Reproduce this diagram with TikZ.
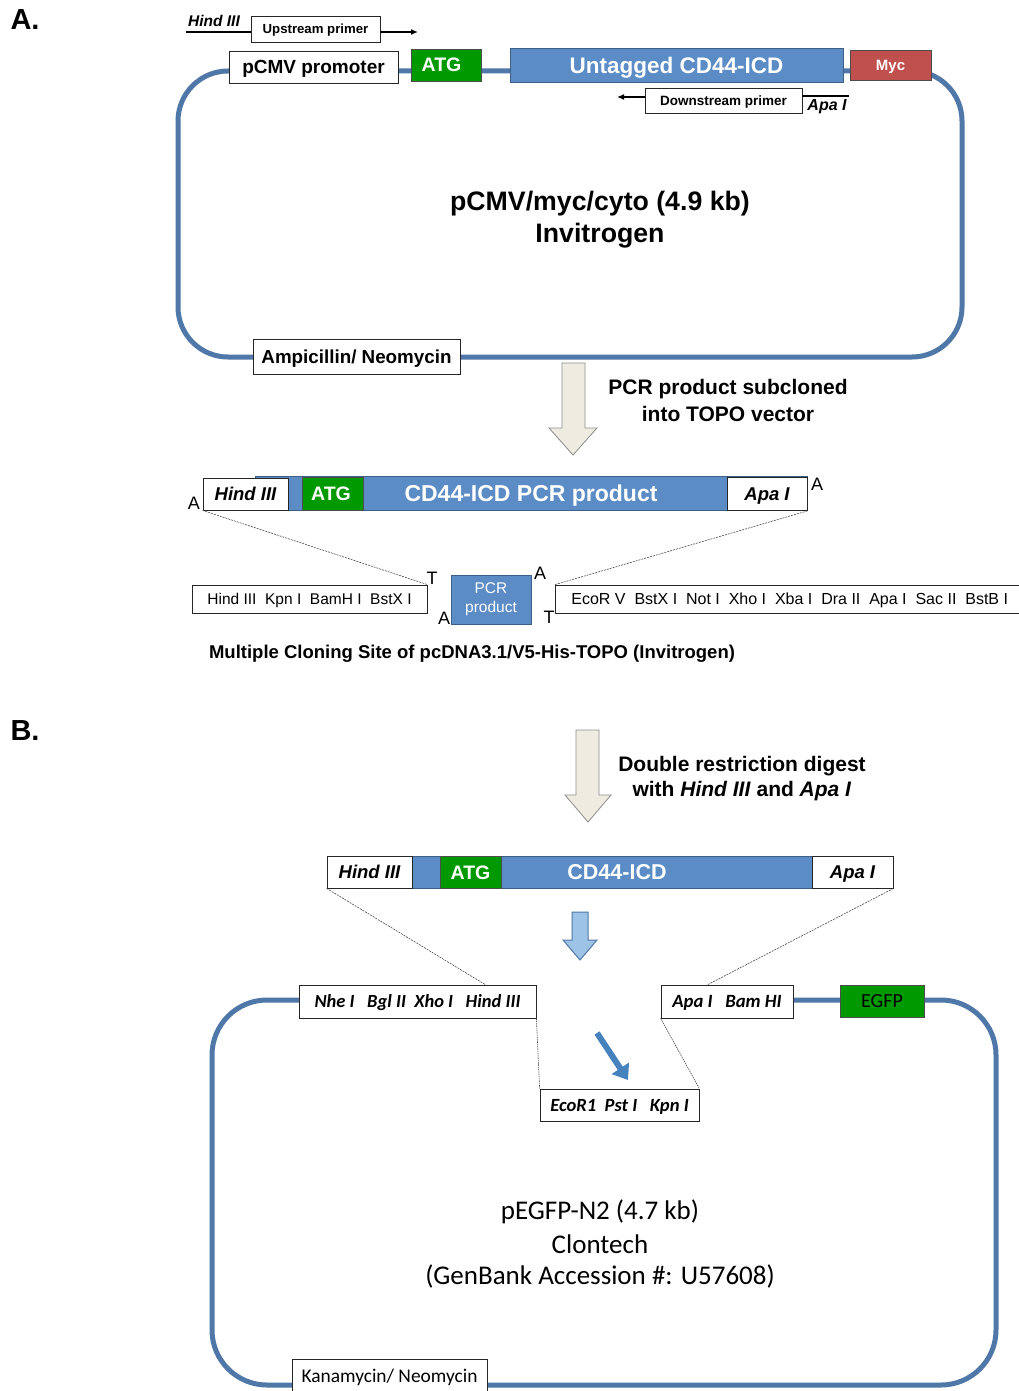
\documentclass[tikz,border=0pt]{standalone}
\usepackage{fontspec}
\setmainfont{Liberation Sans}
\newfontfamily\calib{Carlito}
\usetikzlibrary{arrows.meta}
\definecolor{plas}{RGB}{79,120,168}
\definecolor{barblue}{RGB}{92,140,197}
\definecolor{atggreen}{RGB}{0,153,0}
\definecolor{mycred}{RGB}{192,80,77}
\definecolor{greyfill}{RGB}{238,236,225}
\definecolor{greyline}{RGB}{140,140,140}
\definecolor{lightblue}{RGB}{157,195,230}
\definecolor{arrowblue}{RGB}{70,130,190}
\newcommand{\fs}[1]{\fontsize{#1pt}{#1pt}\selectfont}
\begin{document}
\begin{tikzpicture}[x=1pt,y=-1pt,
  sz/.style 2 args={minimum width=#1pt, minimum height=#2pt},
  ct/.style={text height=#1pt, text depth=0pt},
  box/.style={draw=black!85, line width=0.8pt, fill=white, inner sep=0pt},
  colbox/.style={draw=black!70, line width=0.6pt, fill=#1, inner sep=0pt, text=white},
  bar/.style={draw=plas!80!black, line width=0.6pt, fill=barblue, inner sep=0pt, text=white},
  plasmid/.style={draw=plas, line width=5pt, rounded corners=#1},
  blockarrow/.style={draw=greyline, line width=0.8pt, fill=greyfill},
  thindash/.style={draw=black!70, line width=0.6pt, dashed, dash pattern=on 2pt off 1pt},
  lbl/.style={inner sep=0pt}
]
\useasboundingbox (0,0) rectangle (1018,1391);
\fill[white] (0,0) rectangle (1018,1391);

% ---------------- Part A ----------------
\node[lbl, font=\bfseries\fs{29}] (labA) at (25,20) {A.};

\draw[plasmid=50] (178,71) rectangle (962,357);

\coordinate (hl) at (186,32);
\coordinate (ur) at (418,32);
\node[box, sz={129}{26}, ct=9.5, font=\bfseries\fs{13.2}] (up) at (315.5,29) {Upstream primer};
\draw[line width=1.8pt] (hl) -- (up.west |- hl);
\draw[line width=1.8pt, -{Latex[length=7pt,width=6pt]}] (up.east |- ur) -- (ur);
\node[lbl, font=\bfseries\itshape\fs{15.5}] (hindtop) at (214,21) {Hind III};

\node[box, sz={169}{32}, ct=13.6, font=\bfseries\fs{19}] (pcmv) at (313.5,67) {pCMV promoter};
\node[colbox=atggreen, sz={70}{32}, ct=14, font=\bfseries\fs{19.5}] (atgA) at (446,65) {\hspace{-9pt}ATG};
\node[bar, sz={333}{34}, ct=16.1, font=\bfseries\fs{22.5}] (untag) at (676.5,65) {Untagged CD44-ICD};
\node[colbox=mycred, sz={81}{30}, ct=10.7, font=\bfseries\fs{15}] (myc) at (890.5,65) {Myc};

\coordinate (dl) at (617,97);
\coordinate (dr) at (849,96);
\node[box, sz={157}{25}, ct=9.7, font=\bfseries\fs{13.5}] (down) at (723.5,100.5) {Downstream primer};
\draw[line width=1.8pt, -{Latex[length=7pt,width=6pt]}] (down.west |- dl) -- (dl);
\draw[line width=1.8pt] (down.east |- dr) -- (dr);
\node[lbl, font=\bfseries\itshape\fs{16}] (apatop) at (827,107) {Apa I};

\node[lbl, font=\bfseries\fs{26.7}] (titleA1) at (600,204) {pCMV/myc/cyto (4.9 kb)};
\node[lbl, font=\bfseries\fs{26.7}] (titleA2) at (600,236) {Invitrogen};

\node[box, sz={207}{35}, ct=13.5, font=\bfseries\fs{18.8}] (amp) at (356.5,356.5) {Ampicillin/ Neomycin};

% grey block arrow 1
\draw[blockarrow] (562,363) -- (585,363) -- (585,428) -- (597,428) -- (573,455) -- (549,428) -- (562,428) -- cycle;
\node[lbl, font=\bfseries\fs{21}] (sub1) at (728,389) {PCR product subcloned};
\node[lbl, font=\bfseries\fs{21}] (sub2) at (728,414) {into TOPO vector};

% PCR product bar
\node[bar, sz={552}{34}, ct=16.5, font=\bfseries\fs{23}] (pcrbar) at (531,493) {CD44-ICD PCR product};
\node[box, sz={85}{32}, ct=13.2, font=\bfseries\itshape\fs{18.5}] (hindA) at (245.5,494) {Hind III};
\node[colbox=atggreen, sz={61}{33}, ct=14, font=\bfseries\fs{19.5}] (atgB) at (332.5,493.5) {\hspace{-3pt}ATG};
\node[box, sz={80}{33}, ct=13.2, font=\bfseries\itshape\fs{18.5}] (apaA) at (767,494) {Apa I};
\node[lbl, font=\fs{18}] (aL) at (194,503) {A};
\node[lbl, font=\fs{18}] (aR) at (817,484) {A};

% MCS row
\node[box, sz={235}{28}, ct=11.1, font=\fs{15.5}] (mcsL) at (309.5,599) {Hind III\ \ Kpn I\ \ BamH I\ \ BstX I};
\node[colbox=barblue, sz={80}{49}, align=center, draw=plas!80!black, font=\fontsize{15.5pt}{19pt}\selectfont] (pcrp) at (491,599.5) {PCR\\product};
\node[box, sz={470}{28}, ct=11.5, font=\fs{16}, anchor=west] (mcsR) at (555,599) {\makebox[470pt][l]{\hspace{16pt}EcoR V\ \ BstX I\ \ Not I\ \ Xho I\ \ Xba I\ \ Dra II\ \ Apa I\ \ Sac II\ \ BstB I}};
\node[lbl, font=\fs{18}] (t1) at (432,578) {T};
\node[lbl, font=\fs{18}] (a1) at (444,618) {A};
\node[lbl, font=\fs{18}] (a2) at (540,573) {A};
\node[lbl, font=\fs{18}] (t2) at (549,617) {T};
\draw[thindash] (hindA.south west) -- (mcsL.north east);
\draw[thindash] (apaA.south east) -- (mcsR.north west);

\node[lbl, font=\bfseries\fs{18.5}] (caption) at (472,654) {Multiple Cloning Site of pcDNA3.1/V5-His-TOPO (Invitrogen)};

% ---------------- Part B ----------------
\node[lbl, font=\bfseries\fs{29}] (labB) at (25,731) {B.};

\draw[blockarrow] (576,730) -- (599,730) -- (599,795) -- (611,795) -- (588,822) -- (565,795) -- (576,795) -- cycle;
\node[lbl, font=\bfseries\fs{21}] (dig1) at (742,766) {Double restriction digest};
\node[lbl, font=\bfseries\fs{21}] (dig2) at (742,791) {with \textit{Hind III} and \textit{Apa I}};

\node[bar, sz={566}{32}] (bar2) at (610,872) {};
\node[lbl, text=white, ct=15.4, font=\bfseries\fs{21.5}] (cdl) at (617,872) {CD44-ICD};
\node[box, sz={85}{32}, ct=13.2, font=\bfseries\itshape\fs{18.5}] (hindB) at (369.5,872) {Hind III};
\node[colbox=atggreen, sz={61}{32}, ct=14, font=\bfseries\fs{19.5}] (atgC) at (470.5,872) {ATG};
\node[box, sz={81}{32}, ct=13.2, font=\bfseries\itshape\fs{18.5}] (apaB) at (852.5,872) {Apa I};

% small light-blue arrow
\draw[draw=plas, line width=1pt, fill=lightblue] (572,912) -- (588,912) -- (588,940) -- (597,940) -- (580,960) -- (563,940) -- (572,940) -- cycle;

% plasmid B
\draw[plasmid=55] (300,1000) -- (212,1000) -- (212,1385) -- (996,1385) -- (996,1000) -- (792,1000);

\coordinate (nheT) at (486,985);
\coordinate (apaT) at (707,985);
\node[box, sz={237}{33}, ct=11.9, font=\calib\bfseries\itshape\fs{18.5}] (nhe) at (417.5,1001.5) {Nhe I\ \ \ Bgl II\ \ Xho I\ \ \ Hind III};
\node[box, sz={159}{32}, ct=12, font=\calib\bfseries\itshape\fs{18.6}] (eco) at (619.5,1105) {EcoR1\ \ Pst I\ \ \ Kpn I};
\node[box, sz={132}{33}, ct=12, font=\calib\bfseries\itshape\fs{18.7}] (apabam) at (727,1001.5) {Apa I\ \ \ Bam HI};
\node[colbox=atggreen, text=black, sz={84}{32}, ct=12.9, font=\calib\fs{20}] (egfp) at (882,1001) {EGFP};
\draw[thindash] (hindB.south west) -- (nheT);
\draw[thindash] (apaB.south east) -- (apaT);
\draw[thindash, dash pattern=on 1.5pt off 0.8pt] (nhe.south east) -- (eco.north west);
\draw[thindash, dash pattern=on 1.5pt off 0.8pt] (apabam.south west) -- (eco.north east);

\coordinate (ba1) at (597,1033);
\coordinate (ba2) at (628,1080);
\draw[arrowblue, line width=6pt, -{Triangle[length=14pt,width=20pt]}] (ba1) -- (ba2);

\node[lbl, font=\calib\fs{27}] (tb1) at (600,1212) {pEGFP-N2 (4.7 kb)};
\node[lbl, font=\calib\fs{27}] (tb2) at (600,1244) {Clontech};
\node[lbl, font=\calib\fs{27}] (tb3) at (600,1276) {(GenBank Accession \#: U57608)};

\node[box, sz={195}{34}, ct=12.5, font=\calib\fs{19.4}] (kana) at (389.5,1376) {Kanamycin/ Neomycin};
\end{tikzpicture}
\end{document}
